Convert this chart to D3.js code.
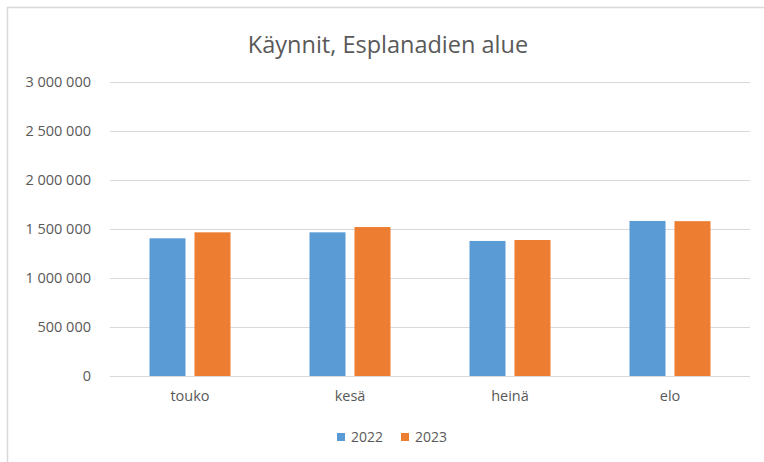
<!DOCTYPE html>
<html>
  <head>
    <meta charset="utf-8">
    <title>Käynnit, Esplanadien alue</title>
    <script src="https://d3js.org/d3.v7.min.js"></script>
    <style>
      body { margin: 0; background: #fff; }
      text { font-family: "Open Sans", "Noto Sans", sans-serif; fill: #595959; }
    </style>
  </head>
  <body>
    <div id="chart"></div>
    <script>
      // Data
      var months = ["touko", "kesä", "heinä", "elo"];
      var years = ["2022", "2023"];
      var visits2022 = [1405000, 1466000, 1378000, 1582000];
      var visits2023 = [1466000, 1520000, 1388000, 1580000];
      var yTicks = [0, 500000, 1000000, 1500000, 2000000, 2500000, 3000000];
      var colors = ["#5B9BD5", "#ED7D31"];

      var W = 764, H = 462;
      var margin = {top: 82, right: 14, bottom: 86, left: 110},
          width = W - margin.left - margin.right,
          height = H - margin.top - margin.bottom;

      var svg = d3.select("#chart")
        .append("svg")
          .attr("width", W)
          .attr("height", H);

      // chart frame (top and left edges visible)
      svg.append("path")
        .attr("d", "M7.5," + H + "V7.5H" + W)
        .attr("fill", "none")
        .attr("stroke", "#D9D9D9")
        .attr("stroke-width", 1.5);

      svg.append("text")
        .attr("x", 388)
        .attr("y", 53)
        .attr("text-anchor", "middle")
        .style("font-size", "23.5px")
        .text("Käynnit, Esplanadien alue");

      var g = svg.append("g")
        .attr("transform", "translate(" + margin.left + "," + margin.top + ")");

      var y = d3.scaleLinear().domain([0, 3000000]).range([height, 0]);
      var x = d3.scaleBand().domain(months).range([0, width]).paddingInner(0).paddingOuter(0);
      var barW = 36, gap = 9;
      var xs = d3.scaleBand().domain(years).range([0, barW * 2 + gap]).paddingInner(gap / (barW + gap));

      var fmt = function(v) { return d3.format(",")(v).replace(/,/g, " "); };

      // gridlines
      g.append("g")
        .selectAll("line")
        .data(yTicks)
        .join("line")
          .attr("x1", 0)
          .attr("x2", width)
          .attr("y1", function(d) { return Math.round(y(d)) + 0.5; })
          .attr("y2", function(d) { return Math.round(y(d)) + 0.5; })
          .attr("stroke", "#D9D9D9")
          .attr("stroke-width", 1);

      // y axis labels
      var yAxis = g.append("g")
        .call(d3.axisLeft(y).tickValues(yTicks).tickSize(0).tickPadding(19).tickFormat(fmt));
      yAxis.select(".domain").remove();
      yAxis.selectAll("text").style("font-size", "14.5px").style("fill", "#595959");

      // x axis labels
      var xAxis = g.append("g")
        .attr("transform", "translate(0," + height + ")")
        .call(d3.axisBottom(x).tickSize(0).tickPadding(15));
      xAxis.select(".domain").remove();
      xAxis.selectAll("text").style("font-size", "14.5px").style("fill", "#595959");

      var series = [visits2022, visits2023];
      years.forEach(function(yr, i) {
        g.append("g")
          .selectAll("rect")
          .data(series[i])
          .join("rect")
            .attr("x", function(d, j) { return x(months[j]) + (x.bandwidth() - (barW * 2 + gap)) / 2 + xs(yr); })
            .attr("width", xs.bandwidth())
            .attr("y", function(d) { return y(d); })
            .attr("height", function(d) { return height - y(d); })
            .attr("fill", colors[i]);
      });

      // legend
      var legend = svg.append("g").attr("transform", "translate(337,437)");
      var lx = [0, 64];
      years.forEach(function(yr, i) {
        var item = legend.append("g").attr("transform", "translate(" + lx[i] + ",0)");
        item.append("rect")
          .attr("x", 0).attr("y", -4)
          .attr("width", 8).attr("height", 8)
          .attr("fill", colors[i]);
        item.append("text")
          .attr("x", 14).attr("y", 0)
          .attr("dy", "0.35em")
          .style("font-size", "14px")
          .text(yr);
      });
    </script>
  </body>
</html>
